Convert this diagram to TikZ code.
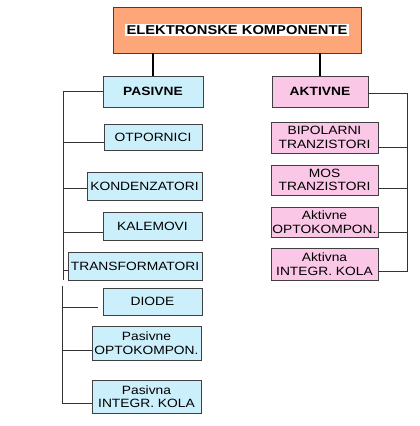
\documentclass[tikz,border=0pt]{standalone}
\usepackage{fontspec}
\setmainfont[FakeStretch=1.15]{Liberation Sans}
\begin{document}
\begin{tikzpicture}[x=1pt,y=-1pt,
  box/.style={draw=black!75, line width=0.8pt, inner sep=0pt, align=center,
     font=\fontsize{12}{13.5}\selectfont, text=black},
  pbox/.style={box, fill=cyan!20},
  abox/.style={box, fill=magenta!22},
  link/.style={draw=black!80, line width=0.9pt},
  thick link/.style={draw=black, line width=1.8pt}]
\useasboundingbox (0,0) rectangle (420,426);
\fill[white] (0,0) rectangle (420,426);
% top
\node[box, fill={rgb,255:red,252;green,166;blue,122}, minimum width=248pt, minimum height=46pt] (top) at (237,30) {};
\node[fill=white, inner xsep=2pt, inner ysep=1.5pt, font=\bfseries\fontsize{12.8}{14}\selectfont] (title) at (237,30) {ELEKTRONSKE KOMPONENTE};
% passive
\node[pbox, minimum width=100pt, minimum height=31pt, font=\bfseries\fontsize{12}{13.5}\selectfont] (pas) at (153,91.5) {PASIVNE};
\node[pbox, minimum width=98pt, minimum height=26pt] (otp) at (153,137) {OTPORNICI};
\node[pbox, minimum width=115pt, minimum height=28pt] (kon) at (144.5,186) {KONDENZATORI};
\node[pbox, minimum width=99pt, minimum height=28pt] (kal) at (152.5,226) {KALEMOVI};
\node[pbox, minimum width=134pt, minimum height=28pt] (tra) at (135,266) {TRANSFORMATORI};
\node[pbox, minimum width=99pt, minimum height=27pt] (dio) at (152.5,301.5) {DIODE};
\node[pbox, minimum width=109pt, minimum height=34pt] (popt) at (146.5,343) {Pasivne\\OPTOKOMPON.};
\node[pbox, minimum width=109pt, minimum height=33pt] (pint) at (146.5,396.5) {Pasivna\\INTEGR. KOLA};
% active
\node[abox, minimum width=96pt, minimum height=31pt, font=\bfseries\fontsize{12}{13.5}\selectfont] (akt) at (320,91.5) {AKTIVNE};
\node[abox, minimum width=107pt, minimum height=31pt] (bip) at (324.5,137.5) {BIPOLARNI\\TRANZISTORI};
\node[abox, minimum width=107pt, minimum height=30pt] (mos) at (324.5,180) {MOS\\TRANZISTORI};
\node[abox, minimum width=107pt, minimum height=30pt] (aopt) at (324.5,222) {Aktivne\\OPTOKOMPON.};
\node[abox, minimum width=107pt, minimum height=32pt] (aint) at (324.5,264) {Aktivna\\INTEGR. KOLA};
% trunk coordinates
\coordinate (lt) at (63,91.5);
\coordinate (ltb) at (63,280);
\coordinate (lt2) at (62,286);
\coordinate (rt) at (407,93);
% top connectors
\draw[thick link] (top.south -| pas.north) -- (pas.north);
\draw[thick link] (top.south -| akt.north) -- (akt.north);
% left tree
\draw[link] (pas.west) -- (lt) -- (ltb);
\draw[link] ([yshift=-5pt]otp.west) -| (lt);
\draw[link] ([yshift=-2pt]kon.west) -| (lt);
\draw[link] ([yshift=-6pt]kal.west) -| (lt);
\draw[link] ([yshift=-4pt]tra.west) -| (lt);
\draw[link] ([yshift=-5.5pt,xshift=-5pt]dio.west) -| (lt2);
\draw[link] ([yshift=-7pt]popt.west) -| (lt2);
\draw[link] ([yshift=-6.5pt]pint.west) -| (lt2);
% right tree
\draw[link] ([yshift=-1.5pt]akt.east) -- (rt);
\draw[link] ([yshift=-9.5pt]bip.east) -| (rt);
\draw[link] ([yshift=-8pt]mos.east) -| (rt);
\draw[link] ([yshift=-10pt]aopt.east) -| (rt);
\draw[link] ([yshift=-7pt]aint.east) -| (rt);
\end{tikzpicture}
\end{document}
